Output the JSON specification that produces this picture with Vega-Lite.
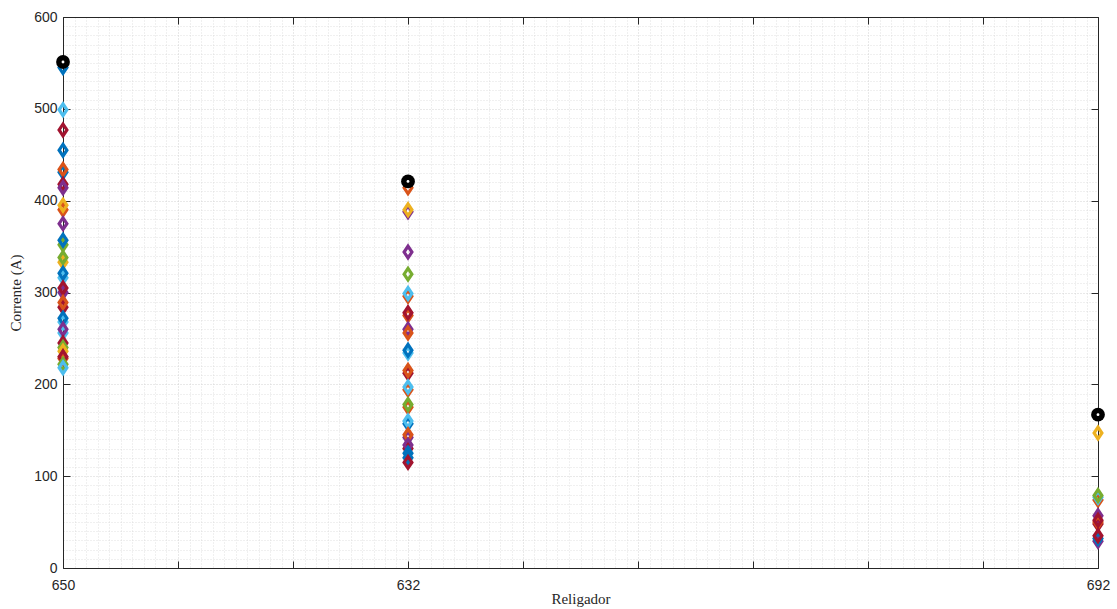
{
  "$schema": "https://vega.github.io/schema/vega-lite/v6.json",
  "width": 1035,
  "height": 551,
  "autosize": {"type": "none"},
  "padding": {"left": 63, "top": 17, "right": 19, "bottom": 41},
  "background": "#ffffff",
  "config": {
    "view": {"stroke": null},
    "axis": {
      "domainColor": "#262626",
      "tickColor": "#262626",
      "labelColor": "#262626",
      "titleColor": "#262626",
      "labelFont": "Liberation Sans",
      "labelFontSize": 14,
      "titleFont": "Liberation Serif",
      "titleFontSize": 15,
      "titleFontWeight": "normal",
      "labelOverlap": false,
      "labelFlush": false
    }
  },
  "datasets": {
    "pts": [
      {"indice": 1, "corrente": 545, "cor": "blue"},
      {"indice": 1, "corrente": 499, "cor": "lightblue"},
      {"indice": 1, "corrente": 477, "cor": "darkred"},
      {"indice": 1, "corrente": 455, "cor": "blue"},
      {"indice": 1, "corrente": 431, "cor": "blue"},
      {"indice": 1, "corrente": 434, "cor": "orange"},
      {"indice": 1, "corrente": 418, "cor": "darkred"},
      {"indice": 1, "corrente": 414, "cor": "purple"},
      {"indice": 1, "corrente": 390, "cor": "orange"},
      {"indice": 1, "corrente": 395, "cor": "yellow"},
      {"indice": 1, "corrente": 375, "cor": "purple"},
      {"indice": 1, "corrente": 352, "cor": "green"},
      {"indice": 1, "corrente": 357, "cor": "blue"},
      {"indice": 1, "corrente": 333, "cor": "yellow"},
      {"indice": 1, "corrente": 338, "cor": "green"},
      {"indice": 1, "corrente": 316, "cor": "lightblue"},
      {"indice": 1, "corrente": 321, "cor": "blue"},
      {"indice": 1, "corrente": 300, "cor": "purple"},
      {"indice": 1, "corrente": 305, "cor": "darkred"},
      {"indice": 1, "corrente": 284, "cor": "darkred"},
      {"indice": 1, "corrente": 289, "cor": "orange"},
      {"indice": 1, "corrente": 268, "cor": "lightblue"},
      {"indice": 1, "corrente": 272, "cor": "blue"},
      {"indice": 1, "corrente": 256, "cor": "lightblue"},
      {"indice": 1, "corrente": 260, "cor": "purple"},
      {"indice": 1, "corrente": 245, "cor": "darkred"},
      {"indice": 1, "corrente": 240, "cor": "green"},
      {"indice": 1, "corrente": 236, "cor": "yellow"},
      {"indice": 1, "corrente": 228, "cor": "orange"},
      {"indice": 1, "corrente": 230, "cor": "darkred"},
      {"indice": 1, "corrente": 222, "cor": "green"},
      {"indice": 1, "corrente": 218, "cor": "lightblue"},
      {"indice": 4, "corrente": 414, "cor": "orange"},
      {"indice": 4, "corrente": 388, "cor": "purple"},
      {"indice": 4, "corrente": 390, "cor": "yellow"},
      {"indice": 4, "corrente": 344, "cor": "purple"},
      {"indice": 4, "corrente": 320, "cor": "green"},
      {"indice": 4, "corrente": 296, "cor": "orange"},
      {"indice": 4, "corrente": 299, "cor": "lightblue"},
      {"indice": 4, "corrente": 275, "cor": "orange"},
      {"indice": 4, "corrente": 278, "cor": "darkred"},
      {"indice": 4, "corrente": 260, "cor": "purple"},
      {"indice": 4, "corrente": 256, "cor": "orange"},
      {"indice": 4, "corrente": 234, "cor": "lightblue"},
      {"indice": 4, "corrente": 237, "cor": "blue"},
      {"indice": 4, "corrente": 212, "cor": "darkred"},
      {"indice": 4, "corrente": 215, "cor": "orange"},
      {"indice": 4, "corrente": 194, "cor": "orange"},
      {"indice": 4, "corrente": 197, "cor": "lightblue"},
      {"indice": 4, "corrente": 175, "cor": "orange"},
      {"indice": 4, "corrente": 178, "cor": "green"},
      {"indice": 4, "corrente": 157, "cor": "blue"},
      {"indice": 4, "corrente": 160, "cor": "lightblue"},
      {"indice": 4, "corrente": 142, "cor": "purple"},
      {"indice": 4, "corrente": 145, "cor": "orange"},
      {"indice": 4, "corrente": 130, "cor": "darkred"},
      {"indice": 4, "corrente": 134, "cor": "purple"},
      {"indice": 4, "corrente": 120, "cor": "blue"},
      {"indice": 4, "corrente": 125, "cor": "blue"},
      {"indice": 4, "corrente": 115, "cor": "darkred"},
      {"indice": 10, "corrente": 147, "cor": "yellow"},
      {"indice": 10, "corrente": 74, "cor": "orange"},
      {"indice": 10, "corrente": 77, "cor": "lightblue"},
      {"indice": 10, "corrente": 79, "cor": "green"},
      {"indice": 10, "corrente": 57, "cor": "purple"},
      {"indice": 10, "corrente": 48, "cor": "darkred"},
      {"indice": 10, "corrente": 50, "cor": "orange"},
      {"indice": 10, "corrente": 52, "cor": "darkred"},
      {"indice": 10, "corrente": 29, "cor": "purple"},
      {"indice": 10, "corrente": 32, "cor": "blue"},
      {"indice": 10, "corrente": 35, "cor": "darkred"}
    ],
    "ref": [
      {"indice": 1, "corrente": 551},
      {"indice": 4, "corrente": 421},
      {"indice": 10, "corrente": 167}
    ]
  },
  "resolve": {"axis": {"x": "independent", "y": "independent"}},
  "layer": [
    {
      "data": {"name": "pts"},
      "mark": {"type": "point", "shape": "M0,-1.35L0.9,0L0,1.35L-0.9,0Z", "filled": false, "strokeWidth": 3.2, "size": 75, "opacity": 1},
      "encoding": {
        "x": {
          "field": "indice", "type": "quantitative",
          "scale": {"domain": [1, 10], "nice": false, "zero": false},
          "axis": {
            "title": "Religador",
            "titlePadding": -1,
            "values": [1,1.1,1.2,1.3,1.4,1.5,1.6,1.7,1.8,1.9,2,2.1,2.2,2.3,2.4,2.5,2.6,2.7,2.8,2.9,3,3.1,3.2,3.3,3.4,3.5,3.6,3.7,3.8,3.9,4,4.1,4.2,4.3,4.4,4.5,4.6,4.7,4.8,4.9,5,5.1,5.2,5.3,5.4,5.5,5.6,5.7,5.8,5.9,6,6.1,6.2,6.3,6.4,6.5,6.6,6.7,6.8,6.9,7,7.1,7.2,7.3,7.4,7.5,7.6,7.7,7.8,7.9,8,8.1,8.2,8.3,8.4,8.5,8.6,8.7,8.8,8.9,9,9.1,9.2,9.3,9.4,9.5,9.6,9.7,9.8,9.9,10],
            "labelExpr": "datum.value == 1 ? '650' : datum.value == 4 ? '632' : datum.value == 10 ? '692' : ''",
            "grid": true,
            "gridColor": "#c8c8c8",
            "gridDash": [1, 2],
            "gridOpacity": {"condition": {"test": "datum.value % 1 === 0", "value": 0.8}, "value": 0.55},
            "tickSize": -7,
            "tickOpacity": {"condition": {"test": "datum.value % 1 === 0", "value": 1}, "value": 0},
            "labelPadding": 17
          }
        },
        "y": {
          "field": "corrente", "type": "quantitative",
          "scale": {"domain": [0, 600], "nice": false},
          "axis": {
            "title": "Corrente (A)",
            "titlePadding": 10,
            "values": [0,10,20,30,40,50,60,70,80,90,100,110,120,130,140,150,160,170,180,190,200,210,220,230,240,250,260,270,280,290,300,310,320,330,340,350,360,370,380,390,400,410,420,430,440,450,460,470,480,490,500,510,520,530,540,550,560,570,580,590,600],
            "labelExpr": "datum.value % 100 === 0 ? datum.value : ''",
            "grid": true,
            "gridColor": "#c8c8c8",
            "gridDash": [1, 2],
            "gridOpacity": {"condition": {"test": "datum.value % 100 === 0", "value": 0.8}, "value": 0.55},
            "tickSize": -7,
            "tickOpacity": {"condition": {"test": "datum.value % 100 === 0", "value": 1}, "value": 0},
            "labelPadding": 13
          }
        },
        "color": {
          "field": "cor", "type": "nominal", "legend": null,
          "scale": {
            "domain": ["blue", "orange", "yellow", "purple", "green", "lightblue", "darkred"],
            "range": ["#0072BD", "#D95319", "#EDB120", "#7E2F8E", "#77AC30", "#4DBEEE", "#A2142F"]
          }
        }
      }
    },
    {
      "data": {"name": "ref"},
      "mark": {"type": "circle", "color": "#000000", "size": 190, "opacity": 1},
      "encoding": {
        "x": {
          "field": "indice", "type": "quantitative",
          "axis": {
            "orient": "top", "title": null, "labels": false, "grid": false,
            "values": [1,2,3,4,5,6,7,8,9,10],
            "tickSize": -7
          }
        },
        "y": {
          "field": "corrente", "type": "quantitative",
          "axis": {
            "orient": "right", "title": null, "labels": false, "grid": false,
            "values": [0,100,200,300,400,500,600],
            "tickSize": -7
          }
        }
      }
    },
    {
      "data": {"name": "ref"},
      "mark": {"type": "circle", "color": "#ffffff", "size": 8, "opacity": 1},
      "encoding": {
        "x": {"field": "indice", "type": "quantitative", "axis": null},
        "y": {"field": "corrente", "type": "quantitative", "axis": null}
      }
    }
  ]
}
